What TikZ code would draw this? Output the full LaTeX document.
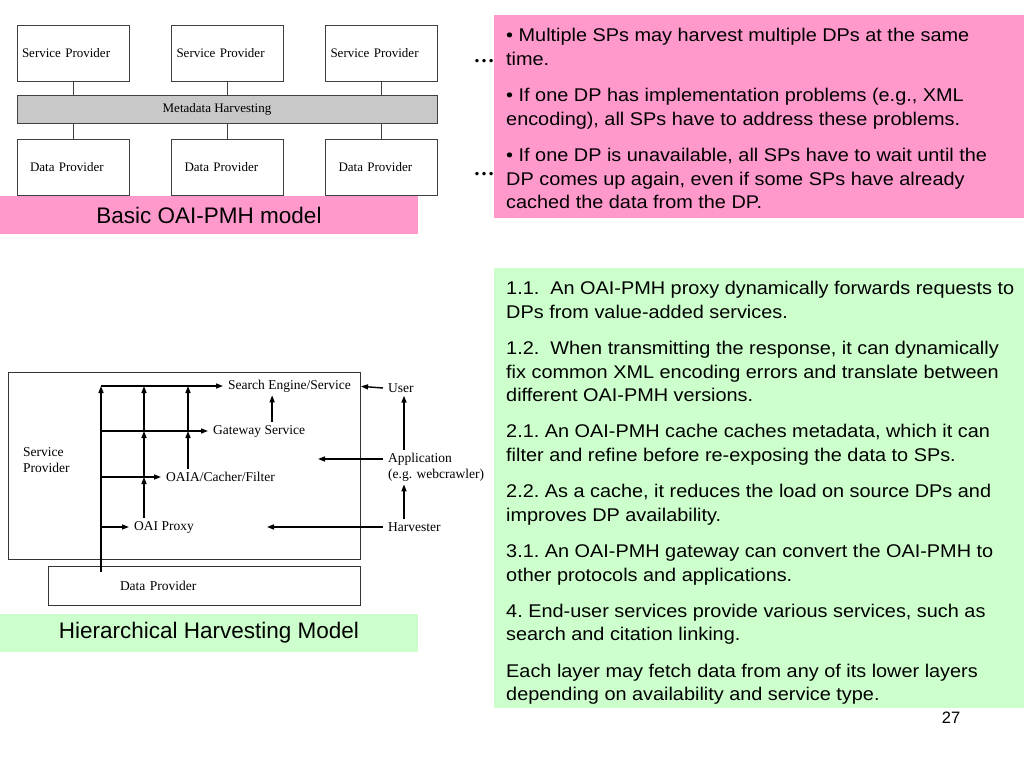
\documentclass[tikz,border=0pt]{standalone}
\usepackage{fontspec}
\setmainfont{Liberation Sans}
\newfontfamily\figserif{Liberation Serif}
\newfontfamily\slidefont[FakeStretch=1.08]{Liberation Sans}
\usetikzlibrary{arrows.meta}
\definecolor{slidepink}{HTML}{FF99CC}
\definecolor{slidegreen}{HTML}{CCFFCC}
\definecolor{bargray}{HTML}{C8C8C8}
\tikzset{
  modelbox/.style={draw=black!75,line width=0.8pt,minimum height=56pt,align=left,font=\figserif\fontsize{13}{15}\selectfont},
  hlbl/.style={font=\figserif\fontsize{13.5}{16}\selectfont,inner xsep=5pt,inner ysep=3pt,anchor=west,align=left},
  flow/.style={->,line width=1.4pt},
  slidetext/.style={anchor=north west,inner sep=0pt,align=left,font=\slidefont\frenchspacing\fontsize{18.4}{23.7}\selectfont},
  caption/.style={minimum width=418pt,minimum height=38pt,inner sep=0pt,font=\fontsize{22.5}{26}\selectfont}
}

\begin{document}
\begin{tikzpicture}[x=1pt,y=-1pt,>={Triangle[length=7pt,width=5pt]},line cap=butt]
\useasboundingbox[fill=white] (0,0) rectangle (1024,768);
\node[font=\figserif\bfseries\fontsize{21}{24}\selectfont,inner sep=0pt] (dots1) at (484,61) {\dots};
\node[font=\figserif\bfseries\fontsize{21}{24}\selectfont,inner sep=0pt] (dots2) at (484,174) {\dots};
\node[modelbox,text width=102pt,inner xsep=5pt] (sp1) at (73,53) {Service Provider};
\node[modelbox,text width=102pt,inner xsep=5pt] (sp2) at (227.5,53) {Service Provider};
\node[modelbox,text width=102pt,inner xsep=5pt] (sp3) at (381.5,53) {Service Provider};
\node[draw=black!75,line width=0.8pt,fill=bargray,minimum width=420pt,minimum height=28pt,
  label={[xshift=-10pt,font=\figserif\fontsize{13}{15}\selectfont]center:Metadata Harvesting}] (mh) at (227,109) {};
\node[modelbox,text width=86pt,inner xsep=13pt] (dp1) at (73,167) {Data Provider};
\node[modelbox,text width=86pt,inner xsep=13pt] (dp2) at (227.5,167) {Data Provider};
\node[modelbox,text width=86pt,inner xsep=13pt] (dp3) at (381.5,167) {Data Provider};
\draw[line width=0.8pt,black!75] (sp1.south) -- (sp1.south |- mh.north);
\draw[line width=0.8pt,black!75] (sp2.south) -- (sp2.south |- mh.north);
\draw[line width=0.8pt,black!75] (sp3.south) -- (sp3.south |- mh.north);
\draw[line width=0.8pt,black!75] (dp1.north) -- (dp1.north |- mh.south);
\draw[line width=0.8pt,black!75] (dp2.north) -- (dp2.north |- mh.south);
\draw[line width=0.8pt,black!75] (dp3.north) -- (dp3.north |- mh.south);
\node[caption,fill=slidepink] (cap1) at (209,215) {Basic OAI-PMH model};
\node[fill=slidepink,minimum width=530pt,minimum height=203pt,inner sep=0pt] (pinkbox) at (759,116.5) {};
\node[slidetext] (pinktext) at (506,28) {%
• Multiple SPs may harvest multiple DPs at the same\\
time.\\[12.6pt]
• If one DP has implementation problems (e.g., XML\\
encoding), all SPs have to address these problems.\\[12.6pt]
• If one DP is unavailable, all SPs have to wait until the\\
DP comes up again, even if some SPs have already\\
cached the data from the DP.};
\node[draw=black!80,line width=0.8pt,minimum width=352pt,minimum height=187pt] (spbox) at (184,465.5) {};
\node[draw=black!80,line width=0.8pt,text width=168pt,inner xsep=72pt,minimum height=39pt,align=left,font=\figserif\fontsize{13.5}{16}\selectfont] (dp) at (204,585.5) {Data Provider};
\node[hlbl,inner xsep=0pt] (splabel) at (23,460) {Service\\Provider};
\node[hlbl] (search) at (223,386) {Search Engine/Service};
\node[hlbl] (gateway) at (208,431) {Gateway Service};
\node[hlbl] (oaia) at (161,477) {OAIA/Cacher/Filter};
\node[hlbl] (proxy) at (129,527) {OAI Proxy};
\node[hlbl] (user) at (383,388) {User};
\node[hlbl] (app) at (383,467) {Application\\(e.g. webcrawler)};
\node[hlbl] (harv) at (383,527) {Harvester};
\coordinate (dpin) at (101,572);
\coordinate (v1) at (144,0);
\coordinate (v2) at (188,0);
\coordinate (ux) at (404,0);
\coordinate (gs) at ([xshift=13pt]gateway.north);
\coordinate (appin) at (318,459);
\coordinate (harvin) at (267,527);
\draw[flow] (dpin) -- (search.west -| dpin);
\draw[flow] (search.west -| dpin) -- (search.west);
\draw[flow] (gateway.west -| dpin) -- (gateway.west);
\draw[flow] (oaia.west -| dpin) -- (oaia.west);
\draw[flow] (proxy.west -| dpin) -- (proxy.west);
\draw[flow] (proxy.north -| v1) -- (oaia.west -| v1);
\draw[flow] (oaia.west -| v1) -- (gateway.west -| v1);
\draw[flow] (gateway.west -| v1) -- (search.west -| v1);
\draw[flow] (oaia.north -| v2) -- (gateway.west -| v2);
\draw[flow] (gateway.west -| v2) -- (search.west -| v2);
\draw[flow] (gs) -- (gs |- search.south);
\draw[flow,shorten >=5pt] (user.west) -- (search.east);
\draw[flow] (app.north -| ux) -- (user.south -| ux);
\draw[flow] (harv.north -| ux) -- (app.south -| ux);
\draw[flow] ([yshift=8pt]app.west) -- (appin);
\draw[flow] (harv.west) -- (harvin);
\node[caption,fill=slidegreen] (cap2) at (209,633) {Hierarchical Harvesting Model};
\node[fill=slidegreen,minimum width=530pt,minimum height=440pt,inner sep=0pt] (greenbox) at (759,488) {};
\node[slidetext] (greentext) at (506,281) {%
1.1.\ \ An OAI-PMH proxy dynamically forwards requests to\\
DPs from value-added services.\\[12.4pt]
1.2.\ \ When transmitting the response, it can dynamically\\
fix common XML encoding errors and translate between\\
different OAI-PMH versions.\\[12.4pt]
2.1. An OAI-PMH cache caches metadata, which it can\\
filter and refine before re-exposing the data to SPs.\\[12.4pt]
2.2. As a cache, it reduces the load on source DPs and\\
improves DP availability.\\[12.4pt]
3.1. An OAI-PMH gateway can convert the OAI-PMH to\\
other protocols and applications.\\[12.4pt]
4. End-user services provide various services, such as\\
search and citation linking.\\[12.4pt]
Each layer may fetch data from any of its lower layers\\
depending on availability and service type.};
\node[font=\fontsize{16.5}{19}\selectfont,inner sep=0pt] (pageno) at (951,718) {27};
\end{tikzpicture}
\end{document}
